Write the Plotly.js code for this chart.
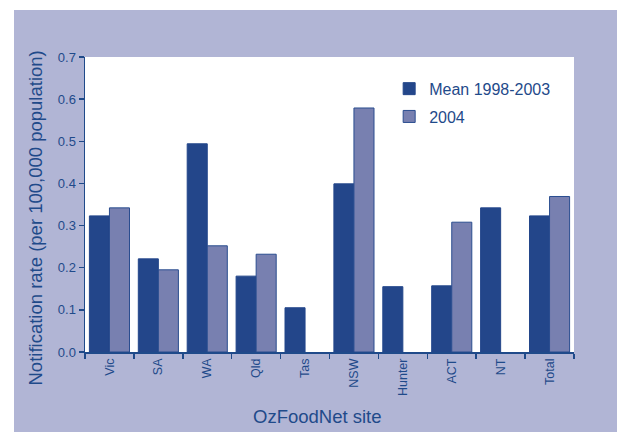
<!DOCTYPE html>
<html>
<head>
<meta charset="utf-8">
<script src="https://cdn.plot.ly/plotly-3.0.1.min.js"></script>
<style>
  html, body { margin: 0; padding: 0; background: #ffffff; }
  #plot { position: absolute; left: 14px; top: 10px; width: 603px; height: 422px; }
</style>
</head>
<body>
<div id="plot"></div>
<script>
// data
const sites = ["Vic", "SA", "WA", "Qld", "Tas", "NSW", "Hunter", "ACT", "NT", "Total"];
const mean9803 = [0.323, 0.221, 0.494, 0.180, 0.105, 0.399, 0.155, 0.157, 0.342, 0.323];
const rate2004 = [0.342, 0.195, 0.252, 0.232, null, 0.579, null, 0.308, null, 0.369];
const seriesNames = ["Mean 1998-2003", "2004"];
const yTicks = [0, 0.1, 0.2, 0.3, 0.4, 0.5, 0.6, 0.7];

const blue = "#1f4a8a";
const lavender = "#b1b5d5";
const font = "Liberation Sans, Arial, sans-serif";

const traces = [
  {
    type: "bar",
    name: seriesNames[0],
    legendgroup: "mean",
    x: sites,
    y: mean9803,
    marker: { color: "#23468a", line: { color: "#23468a", width: 1 } }
  },
  {
    type: "bar",
    name: seriesNames[1],
    legendgroup: "y2004",
    x: sites,
    y: rate2004,
    marker: { color: "#7880b0", line: { color: "#2a4d8f", width: 1 } }
  }
];

const layout = {
  width: 603,
  height: 422,
  margin: { l: 71, r: 43, t: 47, b: 80 },
  paper_bgcolor: lavender,
  plot_bgcolor: "#ffffff",
  font: { family: font, color: blue },
  barmode: "group",
  bargap: 0.18,
  bargroupgap: 0,
  showlegend: true,
  legend: {
    x: 0.622, y: 0.95, xanchor: "left", yanchor: "top",
    traceorder: "grouped", tracegroupgap: 4,
    bgcolor: "rgba(0,0,0,0)",
    font: { size: 16, color: blue, family: font }
  },
  xaxis: {
    type: "category",
    showline: true, linecolor: blue, linewidth: 1.5,
    ticks: "outside", tickson: "boundaries", ticklen: 5, tickcolor: blue, tickwidth: 1.5,
    tickangle: -90,
    tickfont: { size: 12.5, color: blue, family: font },
    showgrid: false, zeroline: false
  },
  yaxis: {
    range: [0, 0.7],
    tickvals: yTicks,
    tickformat: ".1f",
    showline: true, linecolor: blue, linewidth: 1.5,
    ticks: "outside", ticklen: 5, tickcolor: blue, tickwidth: 1.5,
    tickfont: { size: 13, color: blue, family: font },
    showgrid: false, zeroline: false
  },
  annotations: [
    {
      text: "Notification rate (per 100,000 population)",
      xref: "paper", yref: "paper", x: -0.1002, y: 0.4525,
      xanchor: "center", yanchor: "middle", textangle: -90, showarrow: false,
      font: { size: 18.5, color: blue, family: font }
    },
    {
      text: "OzFoodNet site",
      xref: "paper", yref: "paper", x: 0.4755, y: -0.217,
      xanchor: "center", yanchor: "middle", showarrow: false,
      font: { size: 18.5, color: blue, family: font }
    }
  ]
};

Plotly.newPlot("plot", traces, layout, { displayModeBar: false, staticPlot: true });
</script>
</body>
</html>
